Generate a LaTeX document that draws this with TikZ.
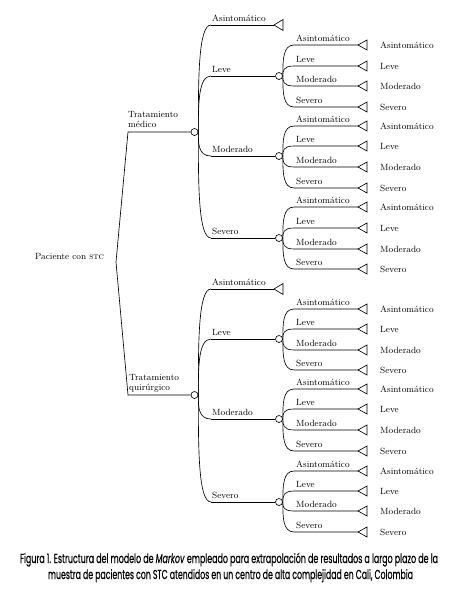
\documentclass[tikz,border=0pt]{standalone}
\usepackage{fontspec}
\usepackage{graphicx}
\usetikzlibrary{calc}
\newfontfamily\capfont[FakeBold=0.5]{Poppins}
\newlength\capwa
\newlength\capwb
\newcommand\captxta{Figura 1. Estructura del modelo de \textit{Markov} empleado para extrapolación de resultados a largo plazo de la}
\newcommand\captxtb{muestra de pacientes con STC atendidos en un centro de alta complejidad en Cali, Colombia}
\newcommand\capsize{\fontsize{13}{15}\selectfont}
% one sub-fan of four outcomes ending in terminal triangles
\newcommand\mksub[5]{%
  \foreach \k/\yy/\txt in {1/#2/Asintomático,2/#3/Leve,3/#4/Moderado,4/#5/Severo}{
    \coordinate (#1s\k) at (294,\yy);
    \coordinate (#1t\k) at (358,\yy);
    \draw[ln] (#1.east) .. controls ($(#1.east)!0.5!(#1.east|-#1s\k)$) and (#1.east|-#1s\k) .. (#1s\k) -- (#1t\k);
    \draw[ln] (#1t\k) -- ++(9,-5) -- ++(0,10) -- cycle;
    \node[lab] (#1l\k) at (296,\yy-3.5) {\txt};
    \node[lab] (#1e\k) at (380,\yy+3) {\txt};
  }}
% a main branch (treatment) with its four states
\newcommand\mkmain[6]{%
  \foreach \j/\yy/\txt in {a/#3/Asintomático,b/#4/Leve,c/#5/Moderado,d/#6/Severo}{
    \coordinate (#1s\j) at (211,\yy);
    \draw[ln] (#1.east) .. controls ($(#1.east)!0.5!(#1.east|-#1s\j)$) and (#1.east|-#1s\j) .. (#1s\j);
    \node[lab] (#1l\j) at (212,\yy-3.5) {\txt};
  }
  \coordinate (#1ta) at (274,#3);
  \draw[ln] (#1sa) -- (#1ta);
  \draw[ln] (#1ta) -- ++(9,-5.5) -- ++(0,11) -- cycle;
  \foreach \j/\yy in {b/#4,c/#5,d/#6}{
    \node[dot] (#1\j) at (279,\yy) {};
    \draw[ln] (#1s\j) -- (#1\j.west);
  }}
\begin{document}
\settowidth\capwa{\capfont\capsize\captxta}
\settowidth\capwb{\capfont\capsize\captxtb}
\pgfmathsetmacro\sxa{418/\capwa}
\pgfmathsetmacro\sxb{365/\capwb}
\begin{tikzpicture}[x=1pt,y=-1pt,
  ln/.style={line width=0.65pt},
  dot/.style={circle,draw,fill=white,line width=0.65pt,minimum size=7pt,inner sep=0pt},
  lab/.style={font=\fontsize{9}{10}\selectfont,inner sep=0pt,anchor=base west}]
\useasboundingbox (0,0) rectangle (457,598);
\fill[white] (0,0) rectangle (457,598);
% root
\coordinate (root) at (116,262);
\node[lab,anchor=west] (pac) at (35,256) {Paciente con \textsc{stc}};
% treatments
\coordinate (k1) at (128,132);
\coordinate (k2) at (128,395);
\node[dot] (m) at (194.5,132) {};
\node[dot] (q) at (194.5,395) {};
\draw[ln] (m.west) -- (k1) -- (root) -- (k2) -- (q.west);
\node[lab,align=left,anchor=south west,text depth=0pt] (mlab) at (128,127.5) {Tratamiento\\médico};
\node[lab,align=left,anchor=south west,text depth=0pt] (qlab) at (129,390.5) {Tratamiento\\quirúrgico};
% states
\mkmain{m}{132}{25}{76}{156}{238}
\mkmain{q}{395}{289}{339}{419}{502}
% sub-fans
\mksub{mb}{45}{66}{86}{107}
\mksub{mc}{126}{146}{167}{188}
\mksub{md}{207}{228}{249}{269}
\mksub{qb}{309}{329}{350}{370}
\mksub{qc}{389}{409}{430}{451}
\mksub{qd}{471}{491}{511}{532}
% caption
\node[anchor=base,inner sep=0pt] (cap1) at (229,563) {\scalebox{\sxa}[1]{\capfont\capsize\captxta}};
\node[anchor=base,inner sep=0pt] (cap2) at (230.5,579) {\scalebox{\sxb}[1]{\capfont\capsize\captxtb}};
\end{tikzpicture}
\end{document}
